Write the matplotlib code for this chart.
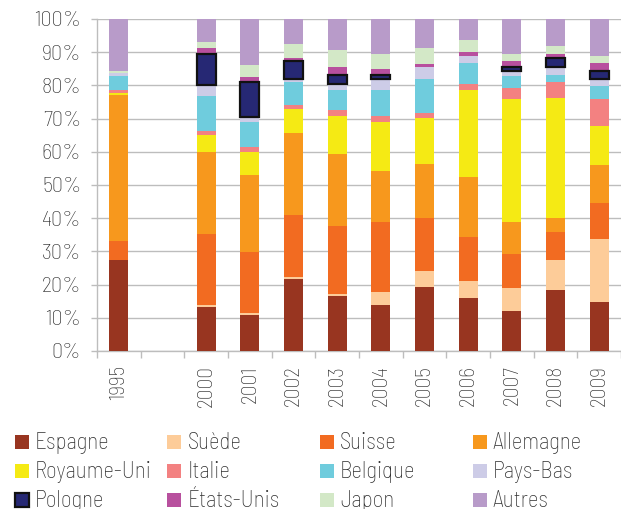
import matplotlib
matplotlib.use("Agg")
import matplotlib.pyplot as plt
from matplotlib.patches import Rectangle
import numpy as np

plt.rcParams["font.family"] = ["Barlow Semi Condensed", "Roboto Condensed", "Roboto", "DejaVu Sans"]
plt.rcParams["font.weight"] = "light"

years = ["1995", "", "2000", "2001", "2002", "2003", "2004", "2005", "2006", "2007", "2008", "2009"]

countries = ["Espagne", "Suède", "Suisse", "Allemagne", "Royaume-Uni", "Italie",
             "Belgique", "Pays-Bas", "Pologne", "États-Unis", "Japon", "Autres"]

colors = ["#983520", "#FDCC99", "#F26B21", "#F7981D", "#F5EA14", "#F38181",
          "#6FCCDD", "#CDCCE7", "#262874", "#B8509E", "#D3E8C7", "#B89BC9"]

# shares in % per year (empty slot between 1995 and 2000)
espagne     = [27.4, 0, 13.2, 10.8, 21.6, 16.5, 13.8, 19.2, 15.9, 12.0, 18.3, 14.7]
suede       = [0.0, 0, 0.6, 0.6, 0.6, 0.6, 3.9, 4.8, 5.1, 6.9, 9.1, 19.0]
suisse      = [5.7, 0, 21.4, 18.4, 18.7, 20.5, 21.1, 16.0, 13.3, 10.3, 8.4, 10.9]
allemagne   = [44.1, 0, 24.8, 23.2, 24.8, 21.8, 15.4, 16.3, 18.1, 9.6, 4.2, 11.4]
royaume_uni = [0.6, 0, 5.1, 7.0, 7.2, 11.4, 14.8, 13.9, 26.3, 37.2, 36.3, 11.8]
italie      = [0.9, 0, 1.2, 1.3, 1.2, 1.8, 1.8, 1.5, 1.8, 3.3, 4.8, 8.2]
belgique    = [4.2, 0, 10.6, 7.7, 7.0, 6.1, 7.9, 10.3, 6.3, 3.6, 2.1, 3.9]
pays_bas    = [0.9, 0, 3.3, 1.5, 0.9, 1.8, 3.3, 3.6, 2.1, 1.5, 2.4, 2.1]
pologne     = [0.0, 0, 9.3, 10.6, 5.4, 2.7, 1.2, 0.0, 0.0, 1.2, 2.7, 2.4]
etats_unis  = [0.0, 0, 1.8, 1.5, 0.9, 2.4, 1.8, 0.9, 1.2, 1.8, 1.2, 2.4]
japon       = [0.6, 0, 1.9, 3.6, 4.3, 5.1, 4.5, 4.8, 3.7, 2.1, 2.5, 2.1]
autres      = [15.6, 0, 6.8, 13.8, 7.4, 9.3, 10.5, 8.7, 6.2, 10.5, 8.0, 11.1]

series = [espagne, suede, suisse, allemagne, royaume_uni, italie,
          belgique, pays_bas, pologne, etats_unis, japon, autres]

text_color = "#2e2e2e"
grid_color = "#bdbdbd"

fig = plt.figure(figsize=(6.21, 5.09), dpi=100)
ax = fig.add_axes([97 / 621, 158 / 509, 524 / 621, 332 / 509])

x = np.arange(len(years))
bottom = np.zeros(len(years))
for name, vals, col in zip(countries, series, colors):
    vals = np.array(vals, dtype=float)
    keep = vals > 0
    if name == "Pologne":
        ax.bar(x[keep], vals[keep], 0.44, bottom=bottom[keep], color=col,
               edgecolor="#111111", linewidth=1.6, zorder=4)
    else:
        ax.bar(x[keep], vals[keep], 0.44, bottom=bottom[keep], color=col,
               linewidth=0, zorder=3)
    bottom += vals

ax.set_xlim(-0.5, len(years) - 0.5)
ax.set_ylim(0, 100)
ax.set_yticks(np.arange(0, 101, 10))
ax.set_yticklabels([f"{v}%" for v in range(0, 101, 10)])
ax.yaxis.grid(True, color=grid_color, linewidth=1.0, zorder=0)
ax.set_axisbelow(True)

ax.set_xticks(x)
ax.set_xticklabels(years, rotation=90)
ax.set_xticks(np.arange(-0.5, len(years), 1), minor=True)
ax.tick_params(axis="x", which="major", length=0, pad=10, labelsize=15.5, labelcolor=text_color)
ax.tick_params(axis="x", which="minor", length=5, color=grid_color, width=1)
ax.tick_params(axis="y", length=4.3, color=grid_color, width=1, pad=7,
               labelsize=16, labelcolor=text_color)

for side in ["top", "right"]:
    ax.spines[side].set_visible(False)
for side in ["left", "bottom"]:
    ax.spines[side].set_color(grid_color)
    ax.spines[side].set_linewidth(1.0)

# legend, 4 equally spaced columns like the original
W, H = 621, 509
for i, (name, col) in enumerate(zip(countries, colors)):
    r, c = divmod(i, 4)
    px = 15 + c * 152.5
    py = 442 + r * 29
    ec = "#111111" if name == "Pologne" else "none"
    lw = 1.6 if name == "Pologne" else 0
    fig.add_artist(Rectangle((px / W, 1 - (py + 7) / H), 14 / W, 14 / H,
                             facecolor=col, edgecolor=ec, linewidth=lw,
                             transform=fig.transFigure))
    fig.text((px + 20) / W, 1 - (py + 1) / H, name, fontsize=16.5, color=text_color,
             va="center", ha="left")

fig.savefig("out.png", dpi=100)
plt.close(fig)
